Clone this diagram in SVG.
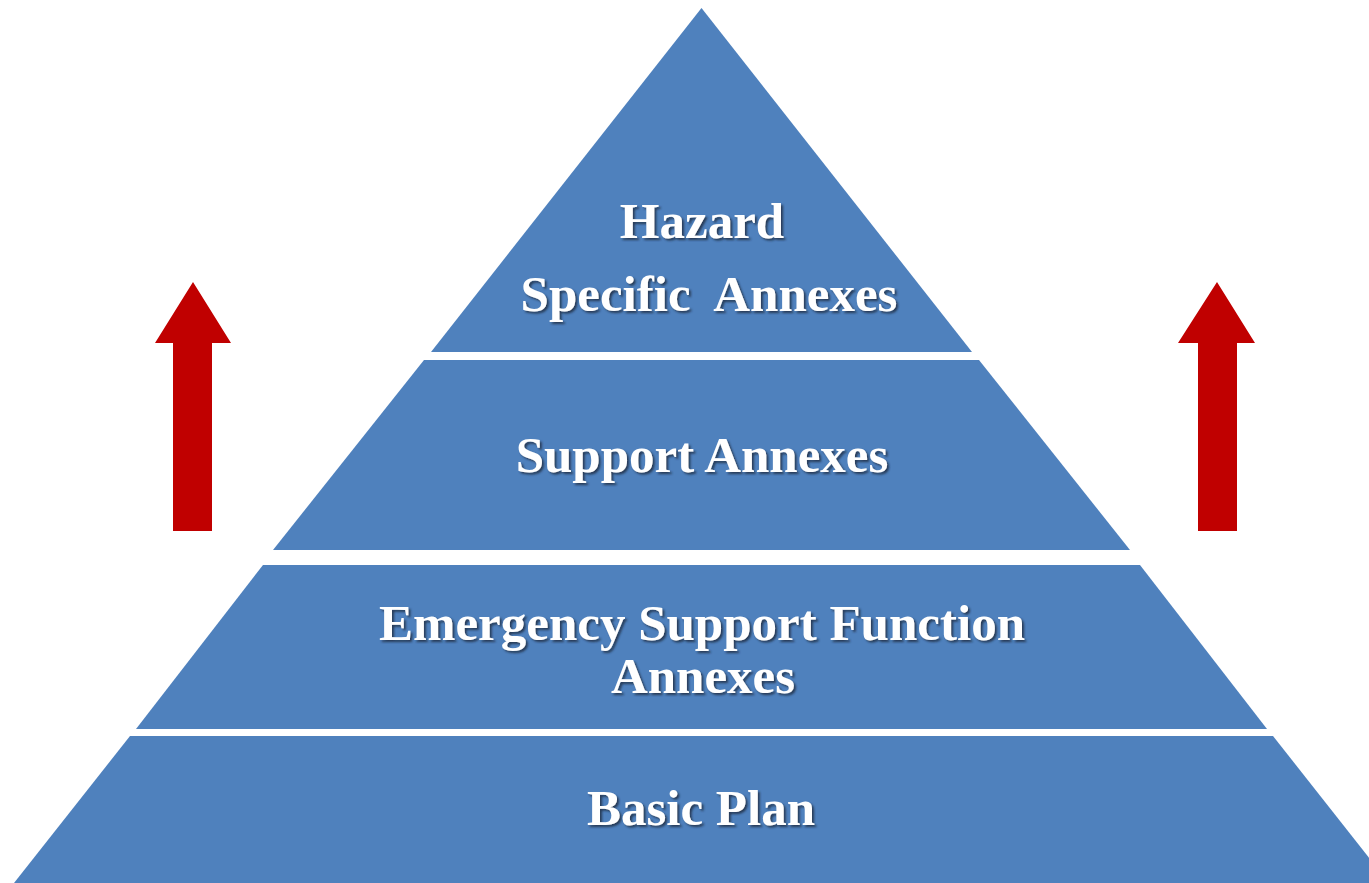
<svg xmlns="http://www.w3.org/2000/svg" width="1369" height="883" viewBox="0 0 1369 883">
  <defs>
    <filter id="shadow" x="-10%" y="-30%" width="120%" height="160%">
      <feDropShadow dx="2" dy="2" stdDeviation="1.2" flood-color="#1f2d44" flood-opacity="0.85"/>
    </filter>
  </defs>
  <style>
    .band { fill: #4F81BD; }
    .arrow { fill: #C00000; }
    .lbl { font-family: "Liberation Serif", "Times New Roman", serif; font-weight: bold; font-size: 51px; fill: #ffffff; text-anchor: middle; filter: url(#shadow); white-space: pre; }
  </style>
  <rect width="1369" height="883" fill="#ffffff"/>
  <g id="band-hazard">
    <polygon class="band" points="701.5,8 431,352 972,352"/>
    <text class="lbl" x="702" y="238">Hazard</text>
    <text class="lbl" x="709" y="311" xml:space="preserve">Specific  Annexes</text>
  </g>
  <g id="band-support">
    <polygon class="band" points="424,360 979,360 1130,550 273,550"/>
    <text class="lbl" x="702" y="472">Support Annexes</text>
  </g>
  <g id="band-esf">
    <polygon class="band" points="263,565 1140,565 1267,729 136,729"/>
    <text class="lbl" x="702" y="640">Emergency Support Function</text>
    <text class="lbl" x="703" y="693">Annexes</text>
  </g>
  <g id="band-basic">
    <polygon class="band" points="130,736 1273,736 1389,883 14,883"/>
    <text class="lbl" x="701" y="825">Basic Plan</text>
  </g>
  <g id="arrow-left">
    <polygon class="arrow" points="193,282 231,343 212,343 212,531 173,531 173,343 155,343"/>
  </g>
  <g id="arrow-right">
    <polygon class="arrow" points="1217,282 1255,343 1237,343 1237,531 1198,531 1198,343 1178,343"/>
  </g>
  <g id="connectors"></g>
</svg>
